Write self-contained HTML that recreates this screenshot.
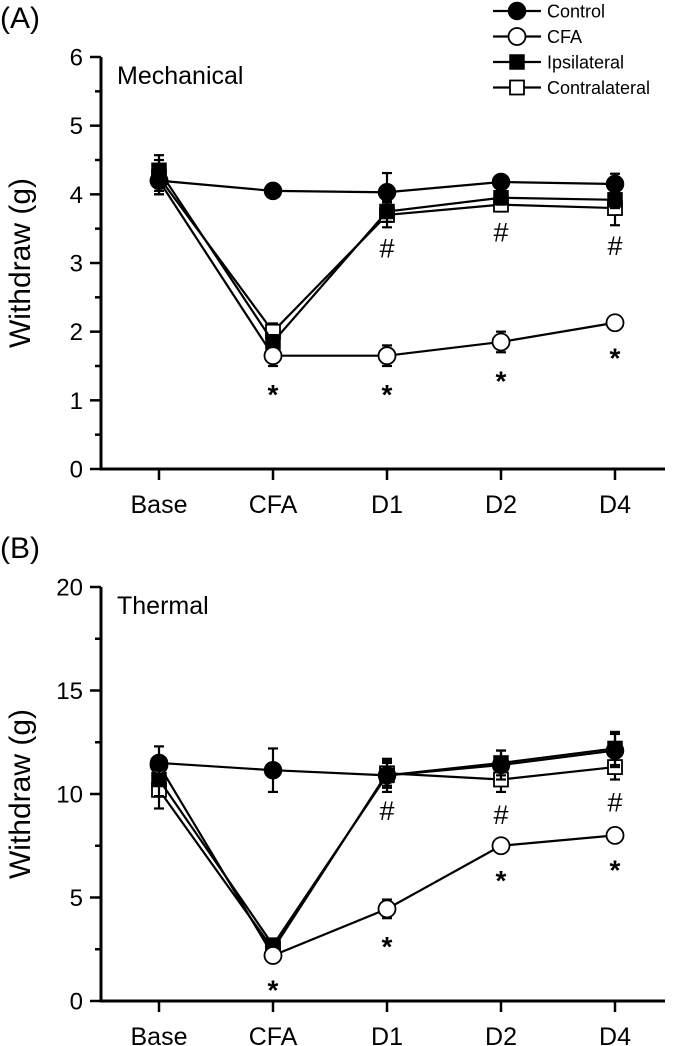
<!DOCTYPE html>
<html><head><meta charset="utf-8"><style>
body{margin:0;background:#fff}
svg{display:block;font-family:"Liberation Sans",Arial,sans-serif}
</style></head><body>
<svg id="fig" width="675" height="1046" viewBox="0 0 675 1046" xmlns="http://www.w3.org/2000/svg"></svg>
<script>
const categories=["Base","CFA","D1","D2","D4"];
const seriesNames=["Control","CFA","Ipsilateral","Contralateral"];
// Panel A (Mechanical)
const aControl=[4.2,4.05,4.03,4.18,4.15];
const aCFA=[4.2,1.65,1.65,1.85,2.13];
const aIpsi=[4.35,1.85,3.75,3.95,3.92];
const aContra=[4.25,2.0,3.7,3.85,3.8];
const aControlErr=[0.2,0.08,0.28,0.08,0.15];
const aCFAErr=[0.15,0.15,0.15,0.15,0.1];
const aIpsiErr=[0.22,0.1,0.15,0.1,0.12];
const aContraErr=[0.25,0.12,0.18,0.1,0.25];
const aTicks=[0,1,2,3,4,5,6];
const aStars=[null,"*","*","*","*"];
const aHash=[null,null,"#","#","#"];
// Panel B (Thermal)
const bControl=[11.5,11.15,10.9,11.4,12.1];
const bCFA=[11.4,2.2,4.45,7.5,8.0];
const bIpsi=[10.7,2.7,10.9,11.5,12.2];
const bContra=[10.2,2.5,11.0,10.7,11.3];
const bControlErr=[0.8,1.05,0.8,0.7,0.8];
const bCFAErr=[0.3,0.3,0.45,0.3,0.3];
const bIpsiErr=[0.8,0.3,0.6,0.6,0.8];
const bContraErr=[0.9,0.3,0.6,0.6,0.6];
const bTicks=[0,5,10,15,20];
const bStars=[null,"*","*","*","*"];
const bHash=[null,null,"#","#","#"];

const NS="http://www.w3.org/2000/svg";
const svg=document.getElementById('fig');
function mk(tag,attrs,parent,text){const e=document.createElementNS(NS,tag);for(const k in attrs)e.setAttribute(k,attrs[k]);if(text!=null)e.textContent=text;(parent||svg).appendChild(e);return e;}

function marker(g,kind,x,y){
  if(kind===0) return mk('circle',{cx:x,cy:y,r:8.5,fill:'#000',stroke:'#000','stroke-width':1.5},g);
  if(kind===1) return mk('circle',{cx:x,cy:y,r:8.5,fill:'#fff',stroke:'#000','stroke-width':1.8},g);
  if(kind===2) return mk('rect',{x:x-7,y:y-7,width:14,height:14,fill:'#000',stroke:'#000','stroke-width':1.5},g);
  return mk('rect',{x:x-7,y:y-7,width:14,height:14,fill:'#fff',stroke:'#000','stroke-width':1.8},g);
}

function panel(o){
  const xL=101,xR=665,yTop=o.yTop,yBot=o.yBot;
  const xs=i=>159+i*114;
  const ys=v=>yBot-(v-o.min)/(o.max-o.min)*(yBot-yTop);
  const g=mk('g',{},svg);
  
  
  const pl=mk('text',{x:0,y:o.labelY,'font-size':30},g,o.label);
  
  const ax=mk('g',{},g);
  
  mk('line',{x1:xL,y1:yTop,x2:xL,y2:yBot+1.5,stroke:'#000','stroke-width':3},ax);
  mk('line',{x1:xL-1.5,y1:yBot,x2:xR,y2:yBot,stroke:'#000','stroke-width':3},ax);
  o.ticks.forEach((t,i)=>{
    const y=ys(t);
    mk('line',{x1:xL-11,y1:y,x2:xL,y2:y,stroke:'#000','stroke-width':2.5},ax);
    const tl=mk('text',{x:xL-18,y:y+8.5,'font-size':24,'text-anchor':'end'},ax,String(t));
    
    if(i<o.ticks.length-1){const m=ys((t+o.ticks[i+1])/2);mk('line',{x1:xL-6,y1:m,x2:xL,y2:m,stroke:'#000','stroke-width':2.5},ax);}
  });
  categories.forEach((c,i)=>{
    mk('line',{x1:xs(i),y1:yBot,x2:xs(i),y2:yBot+11,stroke:'#000','stroke-width':2.5},ax);
    const tl=mk('text',{x:xs(i),y:yBot+44,'font-size':25,'text-anchor':'middle'},ax,c);
    
  });
  const yt=mk('text',{x:0,y:0,'font-size':30,'text-anchor':'middle',transform:`translate(30,${(yTop+yBot)/2}) rotate(-90)`},g,'Withdraw (g)');
  
  const st=mk('text',{x:117,y:yTop+27,'font-size':25},g,o.title);
  
  [3,2,1,0].forEach(k=>{
    const vals=o.series[k],errs=o.errs[k];
    const sg=mk('g',{},g);
    
    
    mk('polyline',{points:vals.map((v,i)=>xs(i)+','+ys(v)).join(' '),fill:'none',stroke:'#000','stroke-width':2.2},sg);
    vals.forEach((v,i)=>{
      const x=xs(i);
      mk('line',{x1:x,y1:ys(v-errs[i]),x2:x,y2:ys(v+errs[i]),stroke:'#000','stroke-width':2.2},sg);
      mk('line',{x1:x-5,y1:ys(v+errs[i]),x2:x+5,y2:ys(v+errs[i]),stroke:'#000','stroke-width':2.2},sg);
      mk('line',{x1:x-5,y1:ys(v-errs[i]),x2:x+5,y2:ys(v-errs[i]),stroke:'#000','stroke-width':2.2},sg);
      const mm=marker(sg,k,x,ys(v));
      
      
    });
  });
  o.stars.forEach((s,i)=>{if(!s)return;
    const t=mk('text',{x:xs(i),y:ys(o.series[1][i]-o.errs[1][i])+o.starOff,'font-size':28,'font-weight':'bold','text-anchor':'middle'},g,s);
    });
  o.hash.forEach((s,i)=>{if(!s)return;
    const lo=Math.min(o.series[2][i]-o.errs[2][i],o.series[3][i]-o.errs[3][i]);
    const t=mk('text',{x:xs(i),y:ys(lo)+o.hashOff,'font-size':27,'text-anchor':'middle'},g,s);
    });
}
panel({name:'mechanical',label:'(A)',labelY:28,yTop:57,yBot:469,min:0,max:6,ticks:aTicks,title:'Mechanical',
  series:[aControl,aCFA,aIpsi,aContra],errs:[aControlErr,aCFAErr,aIpsiErr,aContraErr],stars:aStars,hash:aHash,starOff:38,hashOff:30});
panel({name:'thermal',label:'(B)',labelY:558,yTop:587,yBot:1001,min:0,max:20,ticks:bTicks,title:'Thermal',
  series:[bControl,bCFA,bIpsi,bContra],errs:[bControlErr,bCFAErr,bIpsiErr,bContraErr],stars:bStars,hash:bHash,starOff:38,hashOff:32});
// legend
const lg=mk('g',{});


seriesNames.forEach((n,k)=>{
  const y=11+k*25.5;
  const e=mk('g',{},lg);
  
  
  mk('line',{x1:493,y1:y,x2:541,y2:y,stroke:'#000','stroke-width':2.2},e);
  marker(e,k,517,y);
  mk('text',{x:547,y:y+6.5,'font-size':18},e,n);
});
</script>
</body></html>
